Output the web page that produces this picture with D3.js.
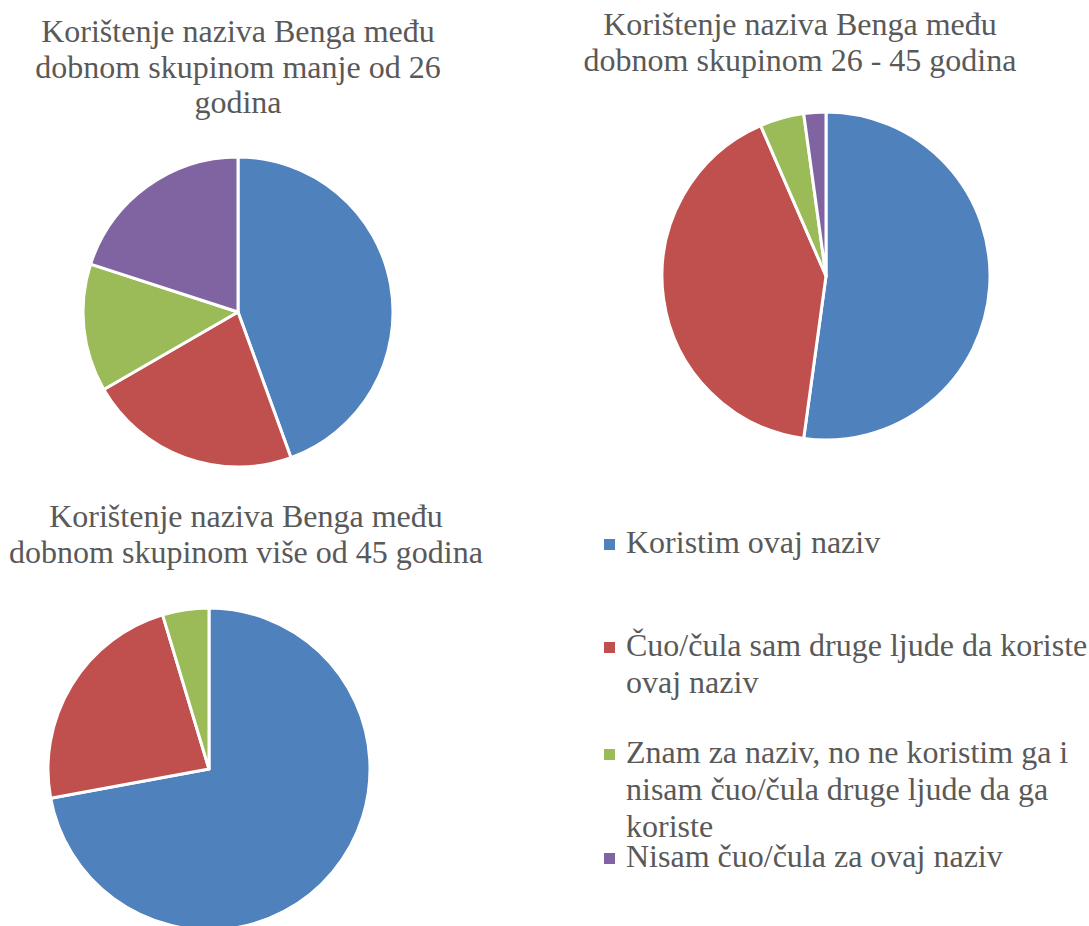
<!DOCTYPE html>
<html lang="hr">
<head>
	<meta charset="utf-8" />
	<title>Korištenje naziva Benga</title>
	<script type="text/javascript" src="https://d3js.org/d3.v7.min.js"></script>
	<style>
		body { margin: 0; background: #fff; }
		svg text { font-family: 'Liberation Serif', Tinos, 'Times New Roman', 'DejaVu Serif', serif; fill: #595959; }
	</style>
</head>
<body>
<div id="content"></div>
<script type="text/javascript">

	// legend categories (same order for every pie)
	var categories = [
		"Koristim ovaj naziv",
		"Čuo/čula sam druge ljude da koriste ovaj naziv",
		"Znam za naziv, no ne koristim ga i nisam čuo/čula druge ljude da ga koriste",
		"Nisam čuo/čula za ovaj naziv"
	];
	// how the legend text wraps in the original
	var legendLines = [
		["Koristim ovaj naziv"],
		["Čuo/čula sam druge ljude da koriste", "ovaj naziv"],
		["Znam za naziv, no ne koristim ga i", "nisam čuo/čula druge ljude da ga", "koriste"],
		["Nisam čuo/čula za ovaj naziv"]
	];
	var colors = ["#4F81BD", "#C0504D", "#9BBB59", "#8064A2"];

	// answers per age group (counts)
	var valuesUnder26 = [20, 10, 6, 9];
	var values26to45 = [24, 19, 2, 1];
	var valuesOver45 = [31, 10, 2, 0];

	var titleUnder26 = ["Korištenje naziva Benga među", "dobnom skupinom manje od 26", "godina"];
	var title26to45 = ["Korištenje naziva Benga među", "dobnom skupinom 26 - 45 godina"];
	var titleOver45 = ["Korištenje naziva Benga među", "dobnom skupinom više od 45 godina"];

	var width = 1089, height = 926;
	var fontSize = 32;

	var svg = d3.select("#content")
		.append("svg")
		.attr("width", width)
		.attr("height", height);

	var color = d3.scaleOrdinal().domain(categories).range(colors);

	var pie = d3.pie()
		.sort(null)
		.value(function(d) { return d.value; });

	function drawPie(values, title, cx, cy, r, tx, ty) {
		var rows = values.map(function(v, i) { return { name: categories[i], value: v }; });
		var arc = d3.arc().innerRadius(0).outerRadius(r);

		var g = svg.append("g").attr("transform", "translate(" + cx + "," + cy + ")");
		g.selectAll("path")
			.data(pie(rows).filter(function(d) { return d.data.value > 0; }))
			.enter()
			.append("path")
			.attr("d", arc)
			.attr("fill", function(d) { return color(d.data.name); })
			.attr("stroke", "#fff")
			.attr("stroke-width", 3)
			.attr("stroke-linejoin", "round");

		svg.append("text")
			.attr("x", tx)
			.attr("y", ty)
			.attr("text-anchor", "middle")
			.style("font-size", fontSize + "px")
			.selectAll("tspan")
			.data(title)
			.enter()
			.append("tspan")
			.attr("x", tx)
			.attr("dy", function(d, i) { return i ? 35.5 : 0; })
			.text(function(d) { return d; });
	}

	drawPie(valuesUnder26, titleUnder26, 238, 312, 155, 238, 42);
	drawPie(values26to45, title26to45, 826, 276, 164, 800, 35);
	drawPie(valuesOver45, titleOver45, 209, 769, 161, 246, 527);

	// legend
	var legendY = [553, 656, 763, 867];
	var legend = svg.append("g").attr("class", "legend");
	var item = legend.selectAll("g")
		.data(categories)
		.enter()
		.append("g")
		.attr("transform", function(d, i) { return "translate(604," + legendY[i] + ")"; });

	item.append("rect")
		.attr("x", 0)
		.attr("y", -14)
		.attr("width", 11)
		.attr("height", 11)
		.attr("fill", function(d) { return color(d); });

	item.append("text")
		.attr("x", 22)
		.style("font-size", fontSize + "px")
		.selectAll("tspan")
		.data(function(d, i) { return legendLines[i]; })
		.enter()
		.append("tspan")
		.attr("x", 22)
		.attr("dy", function(d, i) { return i ? 37 : 0; })
		.text(function(d) { return d; });

</script>
</body>
</html>
